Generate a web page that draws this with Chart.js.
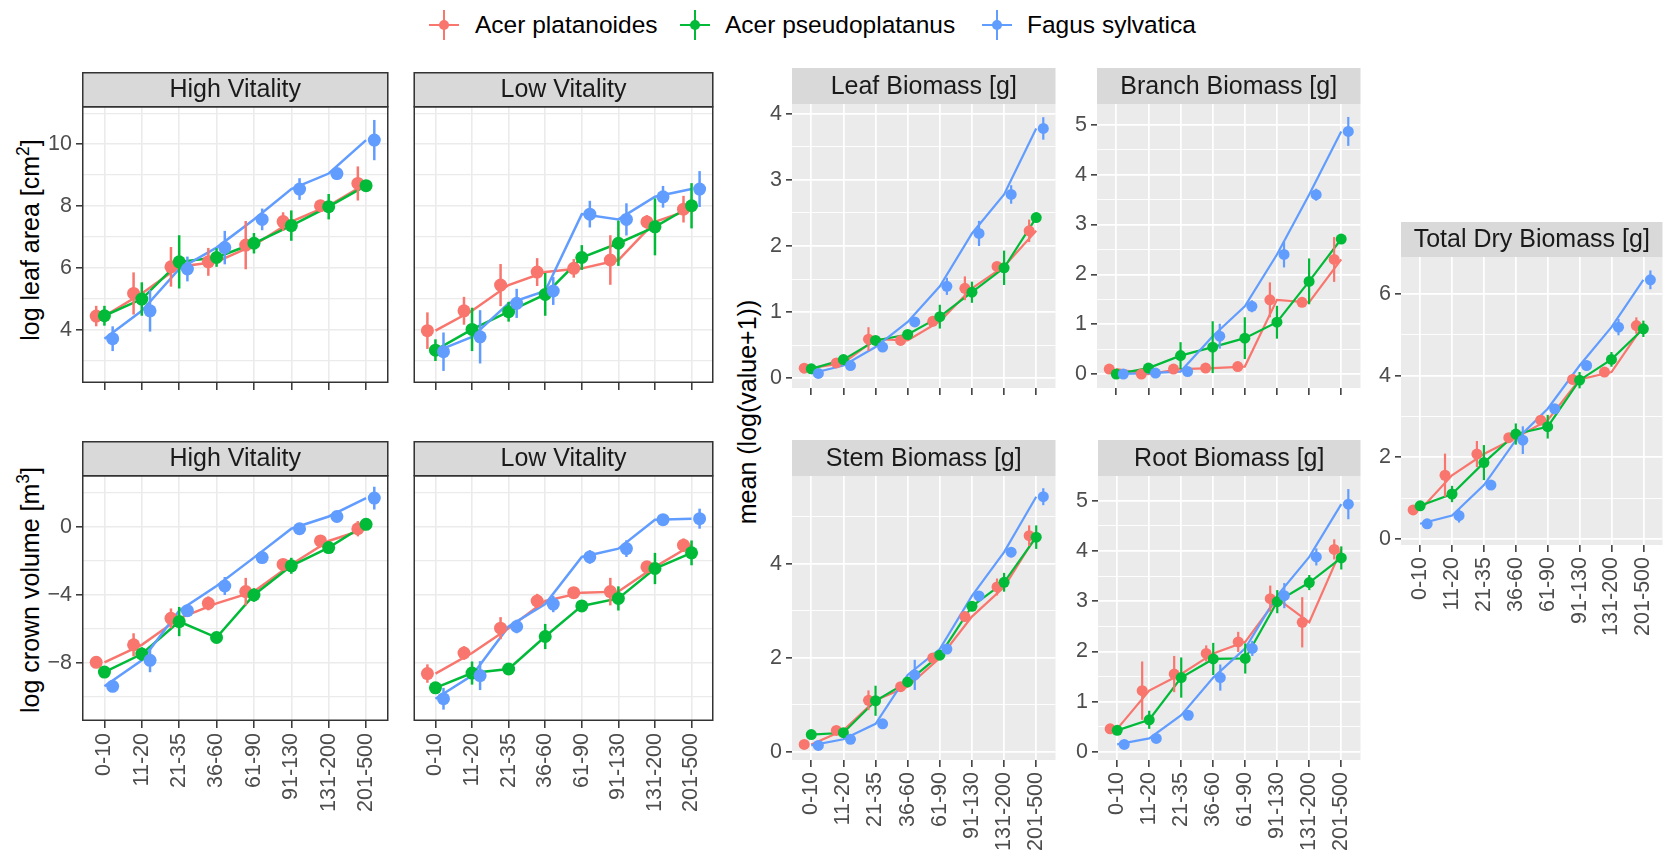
<!DOCTYPE html>
<html>
<head>
<meta charset="utf-8">
<script src="https://cdn.jsdelivr.net/npm/chart.js@4.4.0/dist/chart.umd.min.js"></script>
<style>
  body { margin: 0; background: #fff; font-family: "Liberation Sans", Arial, sans-serif; }
  #fig { position: relative; width: 1668px; height: 857px; overflow: hidden; }
  canvas.panel { position: absolute; }
  .ytitle { position: absolute; transform: translate(-50%, -50%) rotate(-90deg); white-space: nowrap; font-size: 25px; color: #000; line-height: 1; }
  .ytitle sup { font-size: 70%; vertical-align: 0.55em; line-height: 0; }
  .key { position: absolute; top: 25px; width: 30px; height: 30px; transform: translate(-50%, -50%); }
  .key i { position: absolute; display: block; }
  .key .h { left: 0; top: 14px; width: 30px; height: 2px; }
  .key .v { left: 14px; top: 0; width: 2px; height: 30px; }
  .key .dot { left: 10px; top: 10px; width: 10px; height: 10px; border-radius: 50%; }
  .ktext { position: absolute; top: 25px; transform: translateY(-50%); font-size: 24.5px; color: #000; white-space: nowrap; }
</style>
</head>
<body>
<div id="fig">
  <div class="ytitle" style="left:30px; top:240px;">log leaf area [cm<sup>2</sup>]</div>
  <div class="ytitle" style="left:30px; top:590px;">log crown volume [m<sup>3</sup>]</div>
  <div class="ytitle" style="left:747px; top:412px;">mean (log(value+1))</div>
</div>
<script>
// Diameter classes and species
const categories = ['0-10', '11-20', '21-35', '36-60', '61-90', '91-130', '131-200', '201-500'];
const species = ['Acer platanoides', 'Acer pseudoplatanus', 'Fagus sylvatica'];
const speciesColors = ['#F8766D', '#00BA38', '#619CFF'];

// Means and standard errors, one row per species
const leafAreaHighMean = [
  [4.45, 5.18, 6.04, 6.2, 6.74, 7.5, 8.01, 8.73],
  [4.46, 5.0, 6.2, 6.34, 6.8, 7.37, 7.98, 8.66],
  [3.72, 4.62, 5.97, 6.66, 7.57, 8.55, 9.05, 10.13]
];
const leafAreaHighSe = [
  [0.33, 0.68, 0.64, 0.45, 0.78, 0.3, 0.18, 0.55],
  [0.32, 0.54, 0.86, 0.3, 0.33, 0.49, 0.41, 0.1],
  [0.4, 0.67, 0.4, 0.54, 0.35, 0.35, 0.1, 0.65]
];
const leafAreaLowMean = [
  [3.98, 4.62, 5.45, 5.87, 5.99, 6.26, 7.49, 7.9],
  [3.35, 4.02, 4.59, 5.15, 6.34, 6.8, 7.33, 8.01],
  [3.3, 3.78, 4.86, 5.26, 7.74, 7.57, 8.3, 8.55]
];
const leafAreaLowSe = [
  [0.59, 0.45, 0.68, 0.45, 0.3, 0.8, 0.22, 0.43],
  [0.35, 0.7, 0.32, 0.69, 0.4, 0.73, 0.92, 0.73],
  [0.62, 0.86, 0.47, 0.45, 0.43, 0.52, 0.35, 0.58]
];
const crownHighMean = [
  [-7.96, -6.93, -5.37, -4.49, -3.8, -2.2, -0.82, -0.1],
  [-8.53, -7.47, -5.56, -6.5, -4.0, -2.28, -1.21, 0.16],
  [-9.37, -7.84, -4.92, -3.47, -1.8, -0.1, 0.62, 1.7]
];
const crownHighSe = [
  [0.25, 0.68, 0.58, 0.41, 0.81, 0.3, 0.27, 0.45],
  [0.3, 0.4, 0.86, 0.15, 0.4, 0.47, 0.3, 0.3],
  [0.3, 0.7, 0.35, 0.53, 0.3, 0.27, 0.25, 0.67]
];
const crownLowMean = [
  [-8.62, -7.41, -5.95, -4.35, -3.86, -3.8, -2.34, -1.07],
  [-9.46, -8.59, -8.35, -6.44, -4.64, -4.2, -2.44, -1.52],
  [-10.1, -8.74, -5.85, -4.53, -1.76, -1.27, 0.43, 0.49]
];
const crownLowSe = [
  [0.54, 0.4, 0.65, 0.42, 0.3, 0.81, 0.3, 0.4],
  [0.33, 0.68, 0.2, 0.74, 0.34, 0.71, 0.92, 0.73],
  [0.64, 0.85, 0.4, 0.48, 0.4, 0.49, 0.27, 0.59]
];
const leafMassMean = [
  [0.15, 0.23, 0.59, 0.57, 0.86, 1.36, 1.69, 2.23],
  [0.14, 0.28, 0.57, 0.66, 0.93, 1.3, 1.67, 2.43],
  [0.07, 0.19, 0.47, 0.85, 1.39, 2.19, 2.78, 3.78]
];
const leafMassSe = [
  [0.04, 0.05, 0.18, 0.05, 0.05, 0.18, 0.05, 0.17],
  [0.04, 0.04, 0.04, 0.03, 0.18, 0.16, 0.26, 0.04],
  [0.03, 0.04, 0.04, 0.06, 0.13, 0.19, 0.14, 0.17]
];
const branchMassMean = [
  [0.1, 0.0, 0.1, 0.12, 0.15, 1.49, 1.44, 2.3],
  [0.0, 0.12, 0.37, 0.54, 0.72, 1.04, 1.86, 2.71],
  [0.0, 0.02, 0.05, 0.76, 1.36, 2.4, 3.6, 4.87]
];
const branchMassSe = [
  [0.03, 0.02, 0.03, 0.03, 0.03, 0.35, 0.06, 0.45],
  [0.03, 0.04, 0.27, 0.52, 0.42, 0.33, 0.46, 0.05],
  [0.02, 0.02, 0.03, 0.25, 0.12, 0.26, 0.12, 0.29]
];
const stemMassMean = [
  [0.16, 0.46, 1.1, 1.39, 2.0, 2.88, 3.51, 4.6],
  [0.37, 0.41, 1.09, 1.49, 2.06, 3.1, 3.61, 4.57],
  [0.14, 0.27, 0.6, 1.64, 2.19, 3.32, 4.25, 5.43]
];
const stemMassSe = [
  [0.03, 0.06, 0.21, 0.06, 0.05, 0.07, 0.18, 0.22],
  [0.04, 0.05, 0.32, 0.05, 0.05, 0.09, 0.2, 0.25],
  [0.03, 0.03, 0.03, 0.32, 0.05, 0.07, 0.11, 0.18]
];
const rootMassMean = [
  [0.46, 1.22, 1.55, 1.96, 2.19, 3.05, 2.58, 4.03],
  [0.43, 0.64, 1.48, 1.85, 1.86, 2.99, 3.37, 3.86],
  [0.15, 0.27, 0.73, 1.48, 2.06, 3.11, 3.88, 4.93]
];
const rootMassSe = [
  [0.05, 0.58, 0.36, 0.16, 0.2, 0.26, 0.5, 0.2],
  [0.05, 0.18, 0.4, 0.32, 0.3, 0.23, 0.15, 0.23],
  [0.04, 0.05, 0.05, 0.26, 0.15, 0.25, 0.17, 0.3]
];
const totalMassMean = [
  [0.71, 1.56, 2.08, 2.48, 2.91, 3.91, 4.09, 5.23],
  [0.81, 1.1, 1.87, 2.57, 2.75, 3.89, 4.4, 5.15],
  [0.37, 0.57, 1.32, 2.42, 3.19, 4.25, 5.19, 6.35]
];
const totalMassSe = [
  [0.1, 0.53, 0.32, 0.1, 0.1, 0.12, 0.1, 0.2],
  [0.12, 0.2, 0.43, 0.26, 0.29, 0.2, 0.18, 0.2],
  [0.05, 0.17, 0.1, 0.34, 0.1, 0.12, 0.2, 0.23]
];

// Major y tick values
const leafAreaTicks = [4, 6, 8, 10];
const crownTicks = [-8, -4, 0];
const leafMassTicks = [0, 1, 2, 3, 4];
const branchMassTicks = [0, 1, 2, 3, 4, 5];
const stemMassTicks = [0, 2, 4];
const rootMassTicks = [0, 1, 2, 3, 4, 5];
const totalMassTicks = [0, 2, 4, 6];

const FONT = '"Liberation Sans", Arial, sans-serif';
const TICK_FONT = { family: FONT, size: 21.5 };
const dodge = [-0.22, 0, 0.22];
const fig = document.getElementById('fig');

// legend
const keyX = [444, 695, 997];
const keyTextX = [475, 725, 1027];
species.forEach((name, s) => {
  const key = document.createElement('div');
  key.className = 'key';
  key.style.left = keyX[s] + 'px';
  key.innerHTML = '<i class="h"></i><i class="v"></i><i class="dot"></i>';
  key.querySelectorAll('i').forEach(el => el.style.background = speciesColors[s]);
  fig.appendChild(key);
  const t = document.createElement('div');
  t.className = 'ktext';
  t.style.left = keyTextX[s] + 'px';
  t.textContent = name;
  fig.appendChild(t);
});

function minorTicks(major, lo, hi) {
  const step = major[1] - major[0];
  const out = [];
  for (let v = major[0] - step / 2; v <= hi; v += step) {
    if (v >= lo) out.push(+v.toFixed(6));
  }
  return out;
}

function fmt(v) {
  return String(v).replace('-', '\u2212');
}

function zeroPad(ax) {
  ax.paddingLeft = ax.paddingRight = ax.paddingTop = ax.paddingBottom = 0;
}

// error bars drawn just below their own points
const errorBars = {
  id: 'errorBars',
  beforeDatasetDraw(chart, args) {
    const ds = chart.data.datasets[args.index];
    if (!ds.se) return;
    const { ctx, scales: { x, y } } = chart;
    ctx.save();
    ctx.strokeStyle = ds.backgroundColor;
    ctx.lineWidth = ds.errWidth;
    ds.data.forEach((p, i) => {
      const px = x.getPixelForValue(p.x);
      ctx.beginPath();
      ctx.moveTo(px, y.getPixelForValue(p.y - ds.se[i]));
      ctx.lineTo(px, y.getPixelForValue(p.y + ds.se[i]));
      ctx.stroke();
    });
    ctx.restore();
  }
};

// panel background, facet strip and border
const panelFrame = {
  id: 'panelFrame',
  beforeDraw(chart, args, opts) {
    const { ctx, chartArea: a } = chart;
    ctx.save();
    ctx.fillStyle = opts.bg;
    ctx.fillRect(a.left, a.top, a.right - a.left, a.bottom - a.top);
    ctx.fillStyle = '#D9D9D9';
    ctx.fillRect(a.left, a.top - opts.strip, a.right - a.left, opts.strip);
    ctx.fillStyle = '#1A1A1A';
    ctx.font = '25px ' + FONT;
    ctx.textAlign = 'center';
    ctx.textBaseline = 'middle';
    ctx.fillText(opts.title, (a.left + a.right) / 2, a.top - opts.strip / 2 + 1);
    ctx.restore();
  },
  afterDraw(chart, args, opts) {
    if (!opts.border) return;
    const { ctx, chartArea: a } = chart;
    ctx.save();
    ctx.strokeStyle = '#333333';
    ctx.lineWidth = 1.5;
    ctx.strokeRect(a.left + 0.75, a.top - opts.strip + 0.75, a.right - a.left - 1.5, opts.strip);
    ctx.strokeRect(a.left + 0.75, a.top + 0.75, a.right - a.left - 1.5, a.bottom - a.top - 1.5);
    ctx.restore();
  }
};

const panels = [
  { title: 'High Vitality', mean: leafAreaHighMean, se: leafAreaHighSe, ticks: leafAreaTicks, min: 2.29, max: 11.23,
    box: [82, 106, 313, 277], strip: 34, theme: 'bw', yLabels: true, xLabels: false, yW: 60 },
  { title: 'Low Vitality', mean: leafAreaLowMean, se: leafAreaLowSe, ticks: leafAreaTicks, min: 2.29, max: 11.23,
    box: [407, 106, 313, 277], strip: 34, theme: 'bw', yLabels: false, xLabels: false, yW: 0 },
  { title: 'High Vitality', mean: crownHighMean, se: crownHighSe, ticks: crownTicks, min: -11.41, max: 3.06,
    box: [82, 475, 313, 246], strip: 34, theme: 'bw', yLabels: true, xLabels: true, yW: 60 },
  { title: 'Low Vitality', mean: crownLowMean, se: crownLowSe, ticks: crownTicks, min: -11.41, max: 3.06,
    box: [407, 475, 313, 246], strip: 34, theme: 'bw', yLabels: false, xLabels: true, yW: 0 },
  { title: 'Leaf Biomass [g]', mean: leafMassMean, se: leafMassSe, ticks: leafMassTicks, min: -0.15, max: 4.15,
    box: [792, 104, 269, 284], strip: 36, theme: 'gray', yLabels: true, xLabels: false, yW: 40 },
  { title: 'Branch Biomass [g]', mean: branchMassMean, se: branchMassSe, ticks: branchMassTicks, min: -0.28, max: 5.42,
    box: [1097, 104, 269, 284], strip: 36, theme: 'gray', yLabels: true, xLabels: false, yW: 40 },
  { title: 'Stem Biomass [g]', mean: stemMassMean, se: stemMassSe, ticks: stemMassTicks, min: -0.17, max: 5.87,
    box: [792, 476, 269, 284], strip: 36, theme: 'gray', yLabels: true, xLabels: true, yW: 40 },
  { title: 'Root Biomass [g]', mean: rootMassMean, se: rootMassSe, ticks: rootMassTicks, min: -0.16, max: 5.49,
    box: [1098, 476, 268, 284], strip: 36, theme: 'gray', yLabels: true, xLabels: true, yW: 40 },
  { title: 'Total Dry Biomass [g]', mean: totalMassMean, se: totalMassSe, ticks: totalMassTicks, min: -0.15, max: 6.91,
    box: [1401, 257, 267, 288], strip: 35, theme: 'gray', yLabels: true, xLabels: true, yW: 40 }
];

function buildPanel(p) {
  const bw = p.theme === 'bw';
  const yW = p.yW;
  const xH = p.xLabels ? 110 : 12;
  const canvas = document.createElement('canvas');
  canvas.className = 'panel';
  canvas.width = yW + p.box[2];
  canvas.height = p.strip + p.box[3] + xH;
  canvas.style.left = (p.box[0] - yW) + 'px';
  canvas.style.top = (p.box[1] - p.strip) + 'px';
  fig.appendChild(canvas);

  const majorSet = new Set(p.ticks);
  const minor = minorTicks(p.ticks, p.min, p.max);
  const yTickValues = p.ticks.concat(minor).sort((a, b) => a - b);
  const gridColor = bw ? '#EBEBEB' : '#FFFFFF';
  const majorW = bw ? 1.6 : 1.7;
  const minorW = bw ? 1.2 : 0.9;
  const lineW = bw ? 2.5 : 2.2;
  const radius = bw ? 6.5 : 5.5;

  const datasets = [];
  species.forEach((name, s) => {
    datasets.push({
      label: name,
      data: p.mean[s].map((v, i) => ({ x: i, y: v })),
      showLine: true,
      borderColor: speciesColors[s],
      borderWidth: lineW,
      pointRadius: 0,
      order: 10 - s
    });
  });
  species.forEach((name, s) => {
    datasets.push({
      label: name,
      data: p.mean[s].map((v, i) => ({ x: i + dodge[s], y: v })),
      se: p.se[s],
      errWidth: lineW,
      showLine: false,
      backgroundColor: speciesColors[s],
      borderWidth: 0,
      pointRadius: radius,
      order: 3 - s
    });
  });

  new Chart(canvas, {
    type: 'scatter',
    data: { datasets },
    plugins: [panelFrame, errorBars],
    options: {
      responsive: false,
      animation: false,
      events: [],
      layout: { padding: { top: p.strip, left: 0, right: 0, bottom: 0 } },
      plugins: {
        legend: { display: false },
        tooltip: { enabled: false },
        panelFrame: { bg: bw ? '#FFFFFF' : '#EBEBEB', strip: p.strip, title: p.title, border: bw }
      },
      scales: {
        x: {
          type: 'linear',
          min: -0.6,
          max: categories.length - 0.4,
          bounds: 'data',
          afterBuildTicks: ax => { ax.ticks = categories.map((c, i) => ({ value: i })); },
          afterFit: ax => { ax.height = xH; zeroPad(ax); },
          ticks: {
            display: p.xLabels,
            autoSkip: false,
            minRotation: 90,
            maxRotation: 90,
            padding: 5,
            color: '#4D4D4D',
            font: TICK_FONT,
            callback: v => categories[v]
          },
          grid: {
            color: gridColor,
            lineWidth: majorW,
            drawTicks: true,
            tickLength: 7,
            tickColor: '#333333',
            tickWidth: 1.5
          },
          border: { display: false }
        },
        y: {
          type: 'linear',
          min: p.min,
          max: p.max,
          bounds: 'data',
          afterBuildTicks: ax => { ax.ticks = yTickValues.map(v => ({ value: v })); },
          afterFit: ax => { ax.width = yW; zeroPad(ax); },
          ticks: {
            display: p.yLabels,
            autoSkip: false,
            padding: 4,
            color: '#4D4D4D',
            font: TICK_FONT,
            callback: v => majorSet.has(v) ? fmt(v) : ''
          },
          grid: {
            color: gridColor,
            lineWidth: ctx => majorSet.has(ctx.tick.value) ? majorW : minorW,
            drawTicks: p.yLabels,
            tickLength: 6,
            tickColor: ctx => majorSet.has(ctx.tick.value) ? '#333333' : 'rgba(0,0,0,0)',
            tickWidth: 1.5
          },
          border: { display: false }
        }
      }
    }
  });
}

panels.forEach(buildPanel);
</script>
</body>
</html>
